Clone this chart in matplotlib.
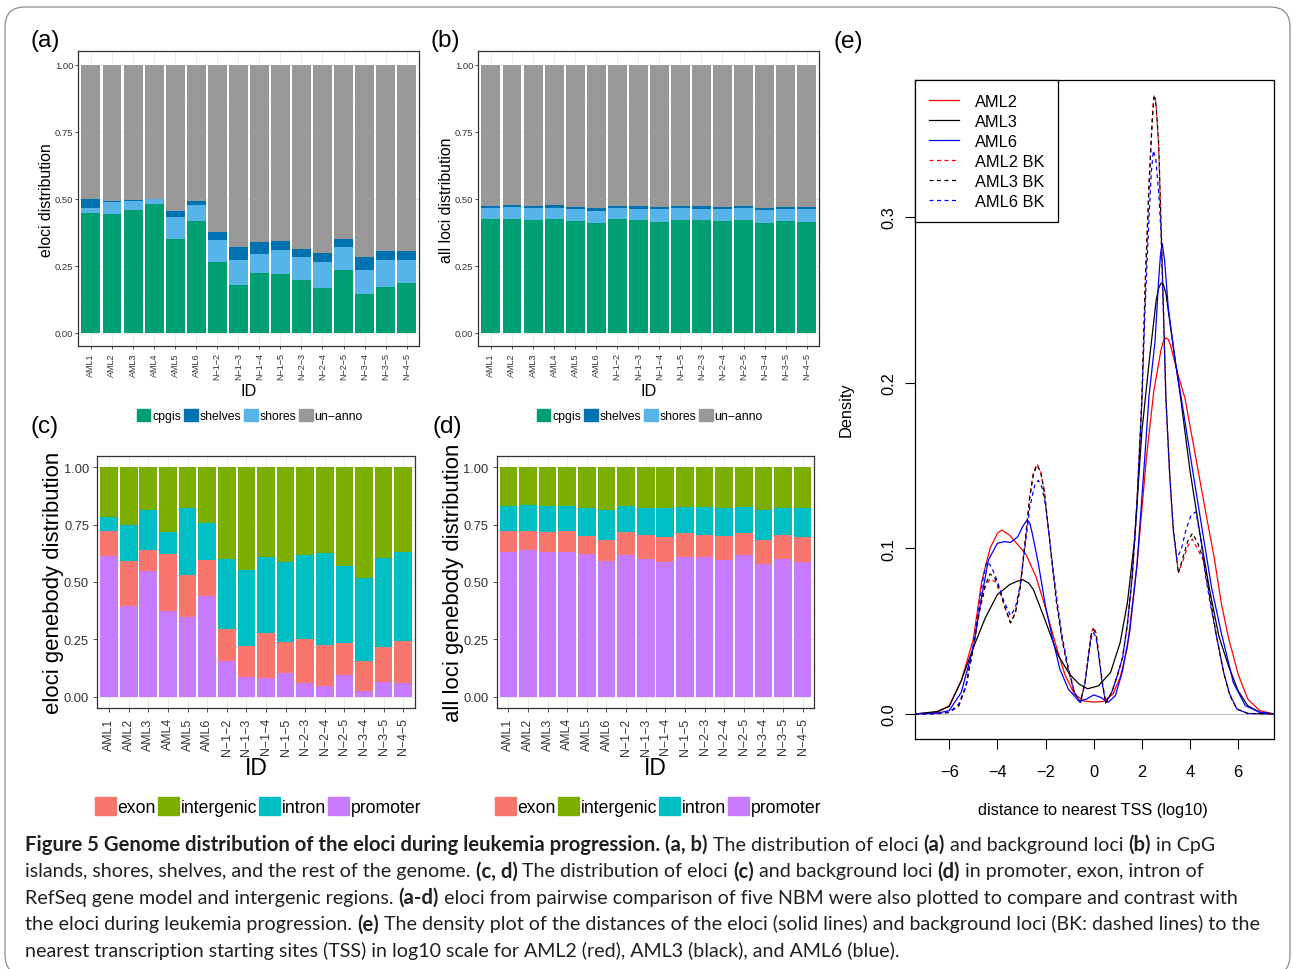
import matplotlib.pyplot as plt
from matplotlib.patches import Patch, FancyBboxPatch

W, H = 1293, 970
plt.rcParams['font.family'] = ['Liberation Sans', 'DejaVu Sans']

samples = ['AML1', 'AML2', 'AML3', 'AML4', 'AML5', 'AML6', 'N-1-2', 'N-1-3', 'N-1-4',
           'N-1-5', 'N-2-3', 'N-2-4', 'N-2-5', 'N-3-4', 'N-3-5', 'N-4-5']

# (a) eloci: fraction in CpG context
a_cpgis = [0.448, 0.444, 0.459, 0.481, 0.351, 0.418, 0.265, 0.179, 0.224, 0.220, 0.198, 0.168, 0.235, 0.146, 0.172, 0.187]
a_shores = [0.018, 0.044, 0.034, 0.018, 0.082, 0.060, 0.082, 0.093, 0.071, 0.090, 0.086, 0.097, 0.086, 0.089, 0.100, 0.085]
a_shelves = [0.034, 0.002, 0.003, 0.002, 0.022, 0.012, 0.030, 0.049, 0.045, 0.033, 0.029, 0.034, 0.030, 0.049, 0.034, 0.034]
a_unanno = [0.500, 0.510, 0.504, 0.499, 0.545, 0.510, 0.623, 0.679, 0.660, 0.657, 0.687, 0.701, 0.649, 0.716, 0.694, 0.694]

# (b) background loci
b_cpgis = [0.425, 0.425, 0.422, 0.425, 0.418, 0.410, 0.425, 0.422, 0.414, 0.422, 0.422, 0.418, 0.422, 0.410, 0.418, 0.414]
b_shores = [0.041, 0.045, 0.044, 0.041, 0.045, 0.045, 0.041, 0.041, 0.049, 0.044, 0.041, 0.045, 0.044, 0.049, 0.045, 0.049]
b_shelves = [0.008, 0.008, 0.008, 0.012, 0.007, 0.011, 0.008, 0.011, 0.007, 0.008, 0.011, 0.007, 0.008, 0.007, 0.007, 0.007]
b_unanno = [0.526, 0.522, 0.526, 0.522, 0.530, 0.534, 0.526, 0.526, 0.530, 0.526, 0.526, 0.530, 0.526, 0.534, 0.530, 0.530]

# (c) eloci: gene body
c_promoter = [0.612, 0.394, 0.547, 0.374, 0.347, 0.438, 0.156, 0.086, 0.080, 0.103, 0.060, 0.045, 0.095, 0.025, 0.063, 0.060]
c_exon = [0.109, 0.196, 0.091, 0.247, 0.184, 0.157, 0.139, 0.134, 0.198, 0.134, 0.192, 0.180, 0.139, 0.131, 0.154, 0.183]
c_intron = [0.062, 0.159, 0.175, 0.096, 0.291, 0.162, 0.305, 0.331, 0.331, 0.349, 0.366, 0.401, 0.334, 0.360, 0.386, 0.387]
c_intergenic = [0.217, 0.251, 0.187, 0.283, 0.178, 0.243, 0.400, 0.449, 0.391, 0.414, 0.382, 0.374, 0.432, 0.484, 0.397, 0.370]

# (d) background loci: gene body
d_promoter = [0.629, 0.638, 0.629, 0.629, 0.621, 0.592, 0.618, 0.600, 0.586, 0.609, 0.609, 0.595, 0.618, 0.577, 0.600, 0.586]
d_exon = [0.092, 0.083, 0.088, 0.092, 0.078, 0.090, 0.099, 0.105, 0.110, 0.105, 0.096, 0.104, 0.096, 0.105, 0.105, 0.110]
d_intron = [0.109, 0.115, 0.113, 0.109, 0.122, 0.131, 0.113, 0.116, 0.125, 0.113, 0.122, 0.122, 0.113, 0.131, 0.116, 0.125]
d_intergenic = [0.170, 0.164, 0.170, 0.170, 0.179, 0.187, 0.170, 0.179, 0.179, 0.173, 0.173, 0.179, 0.173, 0.187, 0.179, 0.179]

# (e) density of distance to nearest TSS (log10)
aml2_x = [-7.42, -6.5, -6.0, -5.5, -5.0, -4.65, -4.3, -4.0, -3.82, -3.5, -3.2, -2.8, -2.4, -2.0, -1.6, -1.2, -0.8, -0.4,
          0.0, 0.4, 0.8, 1.1, 1.4, 1.8, 2.2, 2.5, 2.8, 2.9, 3.0, 3.1, 3.2, 3.5, 3.8, 4.1, 4.4, 4.7, 5.0, 5.3, 5.6, 6.0,
          6.4, 6.9, 7.49]
aml2_y = [0.0, 0.001, 0.005, 0.020, 0.045, 0.080, 0.100, 0.109, 0.111, 0.108, 0.103, 0.096, 0.083, 0.064, 0.043, 0.024,
          0.012, 0.0078, 0.0072, 0.0075, 0.012, 0.022, 0.040, 0.090, 0.156, 0.195, 0.220, 0.225, 0.227, 0.226, 0.222,
          0.205, 0.190, 0.166, 0.142, 0.118, 0.095, 0.067, 0.046, 0.024, 0.009, 0.002, 0.0]
aml3_x = [-7.42, -6.5, -6.0, -5.5, -5.0, -4.5, -4.0, -3.5, -3.2, -2.94, -2.7, -2.5, -2.0, -1.5, -1.0, -0.6, -0.25, 0.2,
          0.7, 1.1, 1.4, 1.7, 2.0, 2.3, 2.6, 2.7, 2.8, 2.9, 3.0, 3.3, 3.6, 4.0, 4.4, 4.8, 5.2, 5.6, 6.0, 6.4, 6.9, 7.49]
aml3_y = [0.0, 0.0015, 0.0045, 0.020, 0.040, 0.058, 0.072, 0.078, 0.080, 0.081, 0.079, 0.075, 0.056, 0.036, 0.024,
          0.018, 0.0152, 0.017, 0.025, 0.043, 0.067, 0.105, 0.170, 0.212, 0.250, 0.257, 0.260, 0.259, 0.254, 0.222,
          0.192, 0.147, 0.110, 0.076, 0.047, 0.029, 0.014, 0.005, 0.001, 0.0]
aml6_x = [-7.42, -6.5, -6.0, -5.5, -5.0, -4.65, -4.37, -4.0, -3.7, -3.45, -3.15, -2.95, -2.82, -2.75, -2.65, -2.55,
          -2.3, -2.0, -1.7, -1.4, -1.05, -0.6, -0.3, 0.0, 0.3, 0.6, 0.9, 1.2, 1.5, 1.8, 2.1, 2.3, 2.55, 2.7, 2.78,
          2.85, 2.95, 3.1, 3.4, 3.7, 4.1, 4.5, 4.9, 5.3, 5.8, 6.3, 6.9, 7.49]
aml6_y = [0.0, 0.0005, 0.002, 0.013, 0.040, 0.071, 0.093, 0.103, 0.104, 0.1035, 0.107, 0.113, 0.116, 0.117, 0.115,
          0.109, 0.091, 0.065, 0.045, 0.027, 0.015, 0.0075, 0.009, 0.0115, 0.010, 0.007, 0.011, 0.026, 0.050, 0.090,
          0.150, 0.192, 0.225, 0.262, 0.278, 0.284, 0.273, 0.245, 0.212, 0.185, 0.148, 0.112, 0.076, 0.049, 0.019,
          0.005, 0.001, 0.0]
bk_x = [-7.42, -6.5, -6.0, -5.6, -5.3, -5.0, -4.75, -4.5, -4.3, -4.1, -3.9, -3.7, -3.45, -3.25, -3.05, -2.85, -2.65,
        -2.5, -2.35, -2.2, -2.05, -1.9, -1.75, -1.55, -1.35, -1.1, -0.8, -0.55, -0.35, -0.2, -0.1, 0.0, 0.1, 0.2, 0.35,
        0.5, 0.75, 1.0, 1.2, 1.4, 1.6, 1.8, 2.0, 2.15, 2.3, 2.4, 2.46, 2.51, 2.56, 2.6, 2.7, 2.8, 2.9, 3.0, 3.15, 3.3,
        3.52, 3.7, 3.9, 4.1, 4.3, 4.55, 4.8, 5.1, 5.4, 5.65, 5.95, 6.4, 7.49]
aml2bk_y = [0.0, 0.0002, 0.001, 0.005, 0.017, 0.040, 0.061, 0.077, 0.0815, 0.080, 0.074, 0.065, 0.055, 0.061, 0.077,
            0.104, 0.132, 0.146, 0.151, 0.146, 0.135, 0.115, 0.095, 0.069, 0.049, 0.030, 0.013, 0.007, 0.020, 0.038,
            0.049, 0.0525, 0.049, 0.038, 0.020, 0.0066, 0.013, 0.024, 0.034, 0.054, 0.083, 0.128, 0.190, 0.265, 0.320,
            0.350, 0.366, 0.3736, 0.372, 0.366, 0.343, 0.293, 0.242, 0.190, 0.146, 0.112, 0.0855, 0.092, 0.101,
            0.1056, 0.100, 0.093, 0.073, 0.047, 0.025, 0.0115, 0.003, 0.0003, 0.0]
aml3bk_y = [0.0, 0.0002, 0.001, 0.005, 0.017, 0.040, 0.062, 0.078, 0.0845, 0.082, 0.075, 0.065, 0.055, 0.061, 0.076,
            0.103, 0.131, 0.145, 0.150, 0.146, 0.134, 0.114, 0.094, 0.068, 0.048, 0.029, 0.013, 0.007, 0.020, 0.037,
            0.048, 0.051, 0.048, 0.037, 0.020, 0.0066, 0.013, 0.024, 0.034, 0.054, 0.082, 0.127, 0.188, 0.262, 0.318,
            0.349, 0.364, 0.372, 0.371, 0.366, 0.344, 0.295, 0.244, 0.192, 0.147, 0.112, 0.085, 0.094, 0.104, 0.109,
            0.104, 0.094, 0.073, 0.047, 0.025, 0.0115, 0.003, 0.0003, 0.0]
aml6bk_x = [-7.42, -6.5, -6.0, -5.6, -5.3, -5.0, -4.75, -4.6, -4.44, -4.25, -4.0, -3.75, -3.46, -3.25, -3.05, -2.85,
            -2.65, -2.45, -2.3, -2.15, -2.0, -1.85, -1.7, -1.5, -1.3, -1.05, -0.8, -0.55, -0.35, -0.2, -0.1, 0.0, 0.1,
            0.2, 0.35, 0.5, 0.75, 1.0, 1.2, 1.4, 1.6, 1.8, 2.0, 2.15, 2.3, 2.4, 2.48, 2.58, 2.7, 2.8, 2.9, 3.0, 3.15,
            3.3, 3.45, 3.65, 3.85, 4.05, 4.25, 4.45, 4.65, 4.85, 5.1, 5.4, 5.65, 5.95, 6.4, 7.49]
aml6bk_y = [0.0, 0.0002, 0.001, 0.006, 0.017, 0.042, 0.066, 0.081, 0.092, 0.089, 0.080, 0.069, 0.0593, 0.064, 0.078,
            0.101, 0.125, 0.138, 0.141, 0.137, 0.126, 0.108, 0.089, 0.066, 0.046, 0.028, 0.013, 0.007, 0.019, 0.036,
            0.046, 0.049, 0.046, 0.036, 0.019, 0.0066, 0.013, 0.024, 0.034, 0.054, 0.083, 0.128, 0.188, 0.250, 0.300,
            0.328, 0.340, 0.335, 0.315, 0.290, 0.240, 0.190, 0.146, 0.114, 0.0935, 0.100, 0.112, 0.120, 0.122, 0.105,
            0.083, 0.066, 0.047, 0.025, 0.012, 0.003, 0.0003, 0.0]

cpg_colors = {'cpgis': '#009E73', 'shelves': '#0072B2', 'shores': '#56B4E9', 'un\u2212anno': '#999999'}
gene_colors = {'exon': '#F8766D', 'intergenic': '#7CAE00', 'intron': '#00BFC4', 'promoter': '#C77CFF'}

fig = plt.figure(figsize=(W / 100, H / 100), dpi=100)


def box(l, t, r, b):
    return fig.add_axes([l / W, 1 - b / H, (r - l) / W, (b - t) / H])


def ftext(x, y, s, **kw):
    return fig.text(x / W, 1 - y / H, s, **kw)


def bar_panel(rect, layers, colors, order, ylabel, ylab_xy, id_xy, leg_xy, sz):
    ax = box(*rect)
    xs = list(range(1, len(samples) + 1))
    bottom = [0.0] * len(samples)
    for name, vals in layers:
        ax.bar(xs, vals, 0.9, bottom=bottom, color=colors[name], linewidth=0, zorder=2)
        bottom = [b + v for b, v in zip(bottom, vals)]
    ax.set_xlim(0.4, 16.6)
    ax.set_ylim(-0.05, 1.05)
    ax.set_yticks([0, 0.25, 0.5, 0.75, 1.0])
    ax.set_yticklabels(['0.00', '0.25', '0.50', '0.75', '1.00'])
    ax.set_yticks([0.125, 0.375, 0.625, 0.875], minor=True)
    ax.set_xticks(xs)
    ax.set_xticklabels([s.replace('-', '\u2212') for s in samples], rotation=90)
    ax.set_axisbelow(True)
    ax.grid(True, which='major', color='#EBEBEB', lw=0.7)
    ax.grid(True, which='minor', axis='y', color='#F2F2F2', lw=0.4)
    ax.tick_params(which='minor', length=0)
    ax.tick_params(axis='y', length=sz['tl'], width=0.6, color='#333333', labelsize=sz['yt'],
                   labelcolor='#333333', pad=sz['ypad'])
    ax.tick_params(axis='x', length=sz['tl'], width=0.6, color='#333333', labelsize=sz['xt'],
                   labelcolor='#333333', pad=sz['xpad'])
    for sp in ax.spines.values():
        sp.set_color('#333333')
        sp.set_linewidth(0.9)
    ftext(*ylab_xy, ylabel, rotation=90, ha='center', va='center', fontsize=sz['title'])
    ftext(*id_xy, 'ID', ha='center', va='center', fontsize=sz['id'])
    handles = [Patch(color=colors[k], label=k) for k in order]
    ax.legend(handles=handles, loc='center', bbox_to_anchor=(leg_xy[0] / W, 1 - leg_xy[1] / H),
              bbox_transform=fig.transFigure, ncol=4, frameon=False, fontsize=sz['leg'],
              handlelength=sz['hl'], handleheight=sz['hl'], handletextpad=sz['htp'],
              columnspacing=sz['cs'], borderpad=0, borderaxespad=0)
    return ax


small = dict(tl=2.4, yt=6.8, xt=6.5, ypad=1.2, xpad=1.9, title=11.4, id=11.7, leg=8.85,
             hl=1.08, htp=0.16, cs=0.25)
large = dict(tl=3.2, yt=9.25, xt=8.9, ypad=2.7, xpad=3.5, title=15.9, id=16.5, leg=12.7,
             hl=1.17, htp=0.1, cs=0.13)
cpg_order = ['cpgis', 'shelves', 'shores', 'un\u2212anno']
gene_order = ['exon', 'intergenic', 'intron', 'promoter']

bar_panel((78.3, 52.3, 419.3, 347.3),
          [('cpgis', a_cpgis), ('shores', a_shores), ('shelves', a_shelves), ('un\u2212anno', a_unanno)],
          cpg_colors, cpg_order, 'eloci distribution', (46.7, 200), (248.7, 391), (250, 416.7), small)
bar_panel((478.3, 52.3, 819.3, 347.3),
          [('cpgis', b_cpgis), ('shores', b_shores), ('shelves', b_shelves), ('un\u2212anno', b_unanno)],
          cpg_colors, cpg_order, 'all loci distribution', (446.7, 200), (648.7, 391), (650, 416.7), small)
bar_panel((97.3, 456.7, 415, 709),
          [('promoter', c_promoter), ('exon', c_exon), ('intron', c_intron), ('intergenic', c_intergenic)],
          gene_colors, gene_order, 'eloci genebody distribution', (53.3, 582.5), (256, 769), (258, 807.3), large)
bar_panel((496.7, 456.7, 814.3, 709),
          [('promoter', d_promoter), ('exon', d_exon), ('intron', d_intron), ('intergenic', d_intergenic)],
          gene_colors, gene_order, 'all loci genebody distribution', (453.3, 582.5), (655.5, 769), (658, 807.3), large)

# (e) density plot
ax = box(915, 81, 1274, 740)
ax.axhline(0, color='#BEBEBE', lw=0.8, zorder=1)
dash = (0, (3.2, 2.8))
ax.plot(aml2_x, aml2_y, color='red', lw=0.9, label='AML2')
ax.plot(aml3_x, aml3_y, color='black', lw=0.9, label='AML3')
ax.plot(aml6_x, aml6_y, color='blue', lw=0.9, label='AML6')
ax.plot(bk_x, aml2bk_y, color='red', lw=0.9, ls=dash, label='AML2 BK')
ax.plot(bk_x, aml3bk_y, color='black', lw=0.9, ls=dash, label='AML3 BK')
ax.plot(aml6bk_x, aml6bk_y, color='blue', lw=0.9, ls=dash, label='AML6 BK')
ax.set_xlim(-7.42, 7.49)
ax.set_ylim(-0.0151, 0.3826)
ax.set_xticks([-6, -4, -2, 0, 2, 4, 6])
ax.set_yticks([0.0, 0.1, 0.2, 0.3])
ax.set_yticklabels(['0.0', '0.1', '0.2', '0.3'], rotation=90, va='center')
ax.tick_params(length=7.2, width=0.8, labelsize=11.8)
ax.tick_params(axis='x', pad=11)
ax.tick_params(axis='y', pad=6)
for sp in ax.spines.values():
    sp.set_linewidth(0.9)
leg = ax.legend(loc='upper left', fontsize=11.8, handlelength=1.83, handletextpad=0.96,
                labelspacing=0.3, borderpad=0.85, borderaxespad=0, fancybox=False,
                edgecolor='black', framealpha=1)
leg.get_frame().set_linewidth(0.9)
ftext(846, 410, 'Density', rotation=90, ha='center', va='center', fontsize=11.8)
ftext(1093, 810, 'distance to nearest TSS (log10)', ha='center', va='center', fontsize=11.8)

# panel letters
for s, x, y in [('(a)', 30, 41), ('(b)', 431, 41), ('(c)', 31, 427), ('(d)', 432, 427), ('(e)', 834, 42)]:
    ftext(x, y, s, ha='left', va='center', fontsize=17.5)

# outer rounded frame
frame = FancyBboxPatch((0.05, -0.06), 12.85, 9.68,
                       boxstyle='round,pad=0,rounding_size=0.2', transform=fig.dpi_scale_trans,
                       fill=False, edgecolor='#8C8C8C', lw=0.9)
fig.add_artist(frame)

# caption
cap_font = ['Lato', 'DejaVu Sans']
cap_lines = [
    [('Figure 5 Genome distribution of the eloci during leukemia progression.', True), (' ', False),
     ('(a, b)', True), (' The distribution of eloci ', False), ('(a)', True), (' and background loci ', False),
     ('(b)', True), (' in CpG', False)],
    [('islands, shores, shelves, and the rest of the genome. ', False), ('(c, d)', True),
     (' The distribution of eloci ', False), ('(c)', True), (' and background loci ', False), ('(d)', True),
     (' in promoter, exon, intron of', False)],
    [('RefSeq gene model and intergenic regions. ', False), ('(a-d)', True),
     (' eloci from pairwise comparison of five NBM were also plotted to compare and contrast with', False)],
    [('the eloci during leukemia progression. ', False), ('(e)', True),
     (' The density plot of the distances of the eloci (solid lines) and background loci (BK: dashed lines) to the',
      False)],
    [('nearest transcription starting sites (TSS) in log10 scale for AML2 (red), AML3 (black), and AML6 (blue).',
      False)],
]
renderer = fig.canvas.get_renderer()


def run_width(s, bold, size):
    t = fig.text(0, 0, '|' + s + '|', fontsize=size, fontweight='bold' if bold else 'normal', family=cap_font)
    w1 = t.get_window_extent(renderer).width
    t.set_text('||')
    w2 = t.get_window_extent(renderer).width
    t.remove()
    return w1 - w2


r4 = (1271 - 25) / sum(run_width(s, b, 12) for s, b in cap_lines[3])
r5 = (887 - 25) / run_width(cap_lines[4][0][0], False, 12)
reg_size = 12 * (r4 + r5) / 2
bold_size = reg_size * 1.03
for i, runs in enumerate(cap_lines):
    x = 25
    y = 851 + i * 26.4
    for s, b in runs:
        size = bold_size if b else reg_size
        ftext(x, y, s, ha='left', va='baseline', fontsize=size,
              fontweight='bold' if b else 'normal', family=cap_font, color='#231F20')
        x += run_width(s, b, size)

fig.savefig('out.png', dpi=100)
